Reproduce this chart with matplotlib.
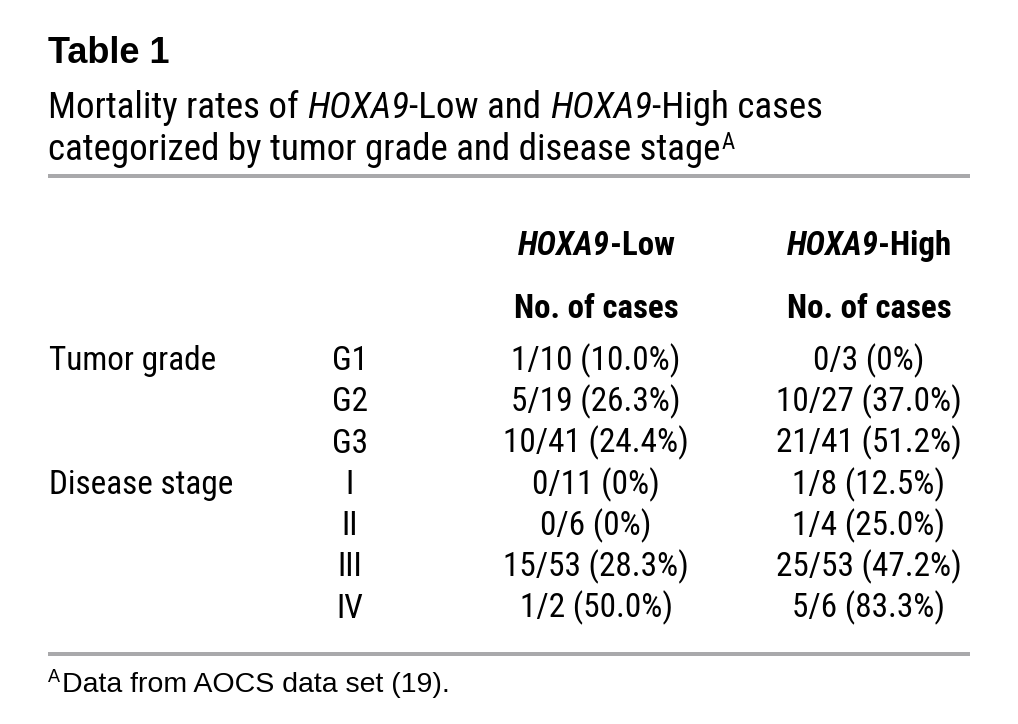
import os
import matplotlib
matplotlib.use("Agg")
import matplotlib.pyplot as plt
from matplotlib import font_manager
from matplotlib.font_manager import FontProperties
from matplotlib.transforms import IdentityTransform

# ---------------- data ----------------
title = "Table 1"
# segments: (text, bold, italic)
subtitle_1 = [("Mortality rates of ", False, False), ("HOXA9", False, True),
              ("-Low and ", False, False), ("HOXA9", False, True),
              ("-High cases", False, False)]
subtitle_2 = "categorized by tumor grade and disease stage"
subtitle_2_sup = "A"
col_groups = [[("HOXA9", True, True), ("-Low", True, False)],
              [("HOXA9", True, True), ("-High", True, False)]]
col_sub = ["No. of cases", "No. of cases"]
row_groups = ["Tumor grade", "", "", "Disease stage", "", "", ""]
row_levels = ["G1", "G2", "G3", "I", "II", "III", "IV"]
low_cases = ["1/10 (10.0%)", "5/19 (26.3%)", "10/41 (24.4%)", "0/11 (0%)",
             "0/6 (0%)", "15/53 (28.3%)", "1/2 (50.0%)"]
high_cases = ["0/3 (0%)", "10/27 (37.0%)", "21/41 (51.2%)", "1/8 (12.5%)",
              "1/4 (25.0%)", "25/53 (47.2%)", "5/6 (83.3%)"]
footnote_sup = "A"
footnote = "Data from AOCS data set (19)."

# ---------------- fonts ----------------
def _w(f):
    w = f.weight
    if isinstance(w, str):
        w = {"normal": 400, "regular": 400, "bold": 700, "light": 300,
             "medium": 500, "semibold": 600, "black": 900}.get(w.lower(), 400)
    return w


def find_condensed():
    groups = {}
    for f in font_manager.fontManager.ttflist:
        base = os.path.basename(f.fname)
        st = f.stretch
        cond = ("ondensed" in f.name or "Narrow" in f.name or "ondensed" in base
                or "Narrow" in base or st in ("condensed", "semi-condensed")
                or (isinstance(st, (int, float)) and 500 > st >= 300))
        if not cond or "Extra" in base or "Ultra" in base:
            continue
        groups.setdefault(f.name, []).append(f)
    prefs = ["Roboto Condensed", "Liberation Sans Narrow", "Open Sans Condensed",
             "Noto Sans Condensed", "Noto Sans", "DejaVu Sans Condensed", "DejaVu Sans",
             "Lato", "Inter"]
    order = [p for p in prefs if p in groups] + [k for k in groups if k not in prefs]
    for fam in order:
        fl = groups[fam]
        res = {}
        for bold in (False, True):
            for ital in (False, True):
                target = 700 if bold else 400
                cands = [f for f in fl if (f.style != "normal") == ital]
                if not cands:
                    continue
                best = min(cands, key=lambda f: abs(_w(f) - target))
                if abs(_w(best) - target) <= 150:
                    res[(bold, ital)] = best.fname
        if (False, False) in res and (True, False) in res:
            res.setdefault((False, True), res[(False, False)])
            res.setdefault((True, True), res[(True, False)])
            return res
    return None


COND = find_condensed()


def fp(size, bold=False, italic=False, wide=False):
    if COND is not None and not wide:
        return FontProperties(fname=COND[(bold, italic)], size=size)
    return FontProperties(family="Liberation Sans",
                          weight="bold" if bold else "normal",
                          style="italic" if italic else "normal", size=size)


W, H = 1018, 724
fig = plt.figure(figsize=(W / 100, H / 100), dpi=100)
fig.patch.set_facecolor("white")
T = IdentityTransform()
R = fig.canvas.get_renderer()


def ink_w(s, prop):
    t = fig.text(0, 0, s, fontproperties=prop, transform=T)
    w = t.get_window_extent(R).width
    t.remove()
    return w


def adv(s, prop):
    return ink_w("|" + s + "|", prop) - ink_w("||", prop)


def segs_width(segs, size):
    return sum(adv(s, fp(size, b, i)) for s, b, i in segs)


def draw_segs(x, y, segs, size, ha="left"):
    advs = [adv(s, fp(size, b, i)) for s, b, i in segs]
    x0 = x - sum(advs) / 2 if ha == "center" else x
    for (s, b, i), a in zip(segs, advs):
        fig.text(x0, H - y, s, fontproperties=fp(size, b, i), transform=T,
                 va="baseline", ha="left")
        x0 += a
    return x0


def txt(x, y, s, prop, ha="left"):
    fig.text(x, H - y, s, fontproperties=prop, transform=T, va="baseline", ha=ha)


def hline(y, x0, x1, lw_px, color):
    fig.add_artist(plt.Line2D([x0, x1], [H - y, H - y], transform=T,
                              lw=lw_px * 72 / 100, color=color,
                              solid_capstyle="butt"))


# ---- fit font sizes to the reference's text widths ----
sub_size = 100 * 775 / segs_width(subtitle_1, 100)
body_size = 100 * 0.5 * (190 / ink_w("10/41 (24.4%)", fp(100)) +
                         164 / ink_w("Tumor grade", fp(100)))
head_size = 100 * 0.5 * (165 / ink_w("No. of cases", fp(100, True)) +
                         160 / segs_width(col_groups[0] + col_groups[1], 100) * 2)

# title block
txt(48, 63, title, fp(26, bold=True, wide=True))
draw_segs(48, 118, subtitle_1, sub_size)
xe = draw_segs(48, 160, [(subtitle_2, False, False)], sub_size)
txt(xe + 1, 160 - 0.42 * sub_size * 100 / 72 * 0.72, subtitle_2_sup, fp(sub_size * 0.62))
hline(176, 48, 970, 4, "#a9a9ab")

# header
col_x = [596, 869]
for cx, g, s in zip(col_x, col_groups, col_sub):
    draw_segs(cx, 255, g, head_size, ha="center")
    txt(cx, 318, s, fp(head_size, True), ha="center")

# body rows
row_y0, row_dy = 370, 41.3
for i, (g, lv, lo, hi) in enumerate(zip(row_groups, row_levels, low_cases, high_cases)):
    y = row_y0 + i * row_dy
    if g:
        txt(49, y, g, fp(body_size))
    txt(350, y, lv, fp(body_size), ha="center")
    txt(col_x[0], y, lo, fp(body_size), ha="center")
    txt(col_x[1], y, hi, fp(body_size), ha="center")

hline(654, 48, 970, 4, "#a9a9ab")
txt(48, 682, footnote_sup, fp(13, wide=True))
txt(62, 692, footnote, fp(20.5, wide=True))

fig.savefig("out.png", dpi=100, facecolor="white")
